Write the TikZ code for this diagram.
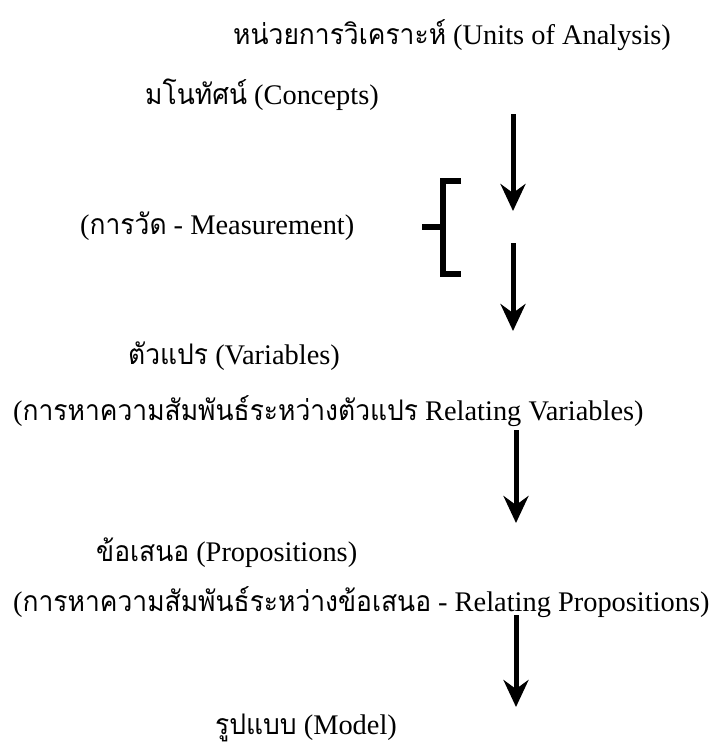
\documentclass[tikz,border=0pt]{standalone}
\usepackage{fontspec}
\setmainfont{Liberation Serif}
\newfontfamily\thai[Script=Thai,FakeStretch=0.93]{Loma}
\usetikzlibrary{arrows.meta}
\tikzset{
  lbl/.style={anchor=base west, inner sep=0pt, font=\fontsize{28.4}{32}\selectfont},
  flow/.style={line width=5pt, -{Stealth[length=27pt,width=25pt,inset=9pt]}},
  brk/.style={line width=5.5pt}
}
\begin{document}
\begin{tikzpicture}[x=1pt,y=-1pt]
\useasboundingbox (0,0) rectangle (718,745);
\node[lbl] (units) at (233,44) {{\thai หน่วยการวิเคราะห์} (Units of Analysis)};
\node[lbl] (concepts) at (145,104) {{\thai มโนทัศน์} (Concepts)};
\node[lbl] (meas) at (80,234) {({\thai การวัด} - Measurement)};
\node[lbl] (vars) at (128,364) {{\thai ตัวแปร} (Variables)};
\node[lbl] (relvar) at (13,420) {({\thai การหาความสัมพันธ์ระหว่างตัวแปร} Relating Variables)};
\node[lbl] (props) at (96,561) {{\thai ข้อเสนอ} (Propositions)};
\node[lbl] (relprop) at (13,611) {({\thai การหาความสัมพันธ์ระหว่างข้อเสนอ} - Relating Propositions)};
\node[lbl] (model) at (215,734) {{\thai รูปแบบ} (Model)};
% arrow endpoints
\coordinate (a1s) at (513,114); \coordinate (a1e) at (513,211);
\coordinate (a2s) at (513,243); \coordinate (a2e) at (513,331);
\coordinate (a3s) at (516,430); \coordinate (a3e) at (516,523);
\coordinate (a4s) at (516,615); \coordinate (a4e) at (516,707);
\draw[flow] (a1s) -- (a1e);
\draw[flow] (a2s) -- (a2e);
\draw[flow] (a3s) -- (a3e);
\draw[flow] (a4s) -- (a4e);
% bracket
\coordinate (bt) at (461,181); \coordinate (bb) at (461,274);
\coordinate (bm) at (443,227); \coordinate (bl) at (422,227);
\draw[brk] (bt) -| (443,274) -- (bb);
\draw[brk] (bl) -- (bm);
\end{tikzpicture}
\end{document}
